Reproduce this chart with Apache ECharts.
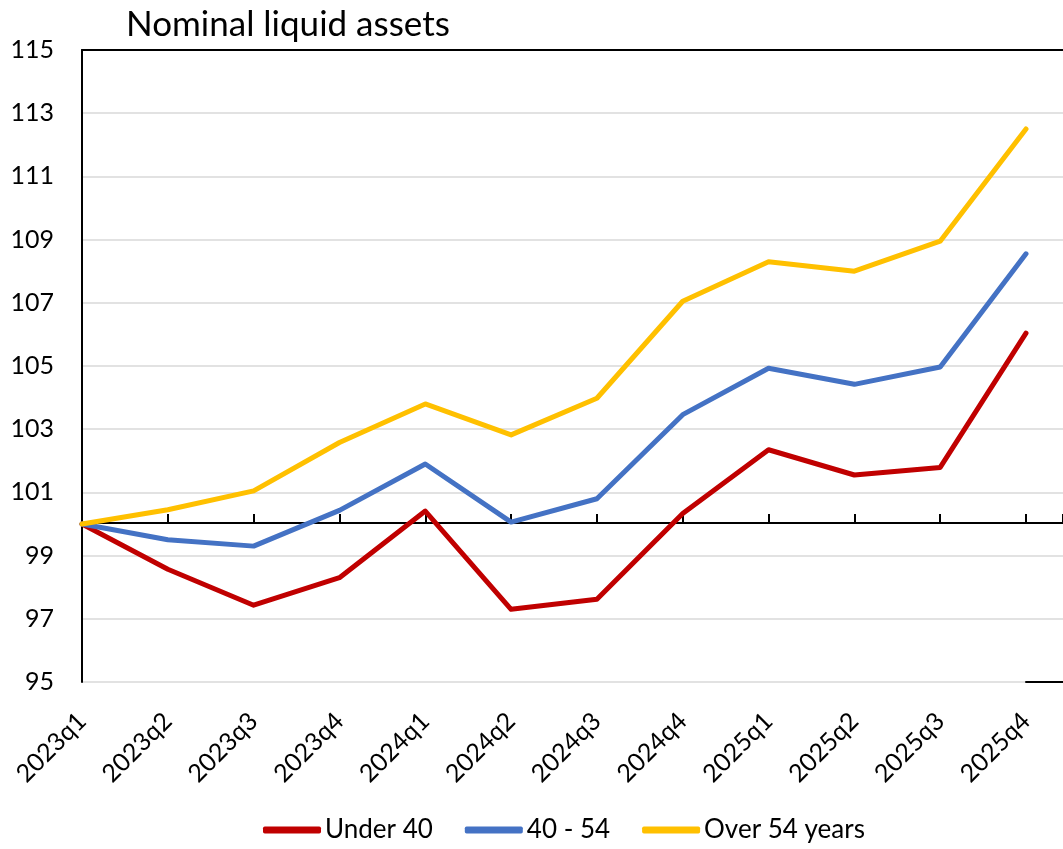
<!DOCTYPE html>
<html>
<head>
<meta charset="utf-8">
<script src="https://cdn.jsdelivr.net/npm/echarts@6/dist/echarts.min.js"></script>
<style>
html,body{margin:0;padding:0;background:#fff;}
#chart{width:1063px;height:849px;}
</style>
</head>
<body>
<div id="chart"></div>
<script>
const categories = ['2023q1','2023q2','2023q3','2023q4','2024q1','2024q2','2024q3','2024q4','2025q1','2025q2','2025q3','2025q4'];
const under40 = [100, 98.57, 97.43, 98.3, 100.41, 97.3, 97.62, 100.33, 102.35, 101.55, 101.79, 106.04];
const age40to54 = [100, 99.5, 99.3, 100.43, 101.9, 100.06, 100.8, 103.46, 104.93, 104.42, 104.97, 108.55];
const over54 = [100, 100.45, 101.05, 102.58, 103.8, 102.82, 103.98, 107.05, 108.3, 108.0, 108.95, 112.5];
const seriesNames = ['Under 40', '40 - 54', 'Over 54 years'];
const yTicks = [95, 97, 99, 101, 103, 105, 107, 109, 111, 113, 115];

const FONT = 'Lato';
const chart = echarts.init(document.getElementById('chart'), null, {renderer: 'canvas'});
const plotLeft = 82, plotTop = 50, plotBottomPx = 682, W = 1063, H = 849;
const catRight = 37;
const step = (W - catRight - plotLeft) / (categories.length - 1);
const axisY = 523;

chart.setOption({
  animation: false,
  backgroundColor: '#fff',
  title: {
    text: 'Nominal liquid assets',
    left: 121, top: 2,
    textStyle: {fontFamily: FONT, fontSize: 35, fontWeight: 'normal', color: '#000'}
  },
  legend: {
    bottom: 1, left: 258,
    itemWidth: 58, itemHeight: 7, itemGap: 32,
    icon: 'roundRect',
    data: seriesNames,
    textStyle: {fontFamily: FONT, fontSize: 26, color: '#000', padding: [0,0,0,-1]}
  },
  grid: [
    {left: plotLeft, right: 0, top: plotTop, bottom: H - plotBottomPx},
    {left: plotLeft, right: catRight, top: plotTop, bottom: H - plotBottomPx},
    {left: plotLeft, right: 0, top: plotTop, height: axisY - plotTop},
    {left: W - catRight, right: 0, top: plotTop, bottom: H - plotBottomPx}
  ],
  xAxis: [
    {gridIndex: 0, type: 'value', position: 'top', min: 0, max: 1,
     axisLine: {show: true, lineStyle: {color: '#000', width: 2}},
     axisTick: {show: false}, axisLabel: {show: false}, splitLine: {show: false}},
    {gridIndex: 1, type: 'category', data: categories, boundaryGap: false,
     axisLine: {show: false}, axisTick: {show: false}, splitLine: {show: false},
     axisLabel: {rotate: 45, margin: 35, fontFamily: FONT, fontSize: 25, color: '#000', interval: 0}},
    {gridIndex: 2, type: 'value', min: 0, max: (W - plotLeft) / step, interval: 1,
     axisLine: {show: true, lineStyle: {color: '#000', width: 2}},
     axisTick: {show: true, inside: true, length: 9, lineStyle: {color: '#000', width: 2}},
     axisLabel: {show: false}, splitLine: {show: false}},
    {gridIndex: 3, type: 'value', min: 0, max: 1,
     axisLine: {show: true, lineStyle: {color: '#000', width: 2}},
     axisTick: {show: false}, axisLabel: {show: false}, splitLine: {show: false}}
  ],
  yAxis: [
    {gridIndex: 0, type: 'value', min: yTicks[0], max: yTicks[yTicks.length-1], interval: 2,
     axisLine: {show: true, lineStyle: {color: '#000', width: 2}},
     axisTick: {show: false},
     axisLabel: {margin: 28, fontFamily: FONT, fontSize: 25, color: '#000'},
     splitLine: {show: true, lineStyle: {color: '#d9d9d9', width: 1.5}}},
    {gridIndex: 1, type: 'value', min: yTicks[0], max: yTicks[yTicks.length-1], interval: 2,
     show: false},
    {gridIndex: 2, type: 'value', min: 0, max: 1, show: false},
    {gridIndex: 3, type: 'value', min: 0, max: 1, show: false}
  ],
  series: [
    {name: seriesNames[0], type: 'line', xAxisIndex: 1, yAxisIndex: 1, data: under40,
     symbol: 'none', lineStyle: {color: '#C00000', width: 5, cap: 'round', join: 'round'}, itemStyle: {color: '#C00000'}, z: 3},
    {name: seriesNames[1], type: 'line', xAxisIndex: 1, yAxisIndex: 1, data: age40to54,
     symbol: 'none', lineStyle: {color: '#4472C4', width: 5, cap: 'round', join: 'round'}, itemStyle: {color: '#4472C4'}, z: 4},
    {name: seriesNames[2], type: 'line', xAxisIndex: 1, yAxisIndex: 1, data: over54,
     symbol: 'none', lineStyle: {color: '#FFC000', width: 5, cap: 'round', join: 'round'}, itemStyle: {color: '#FFC000'}, z: 5}
  ]
});
</script>
</body>
</html>
